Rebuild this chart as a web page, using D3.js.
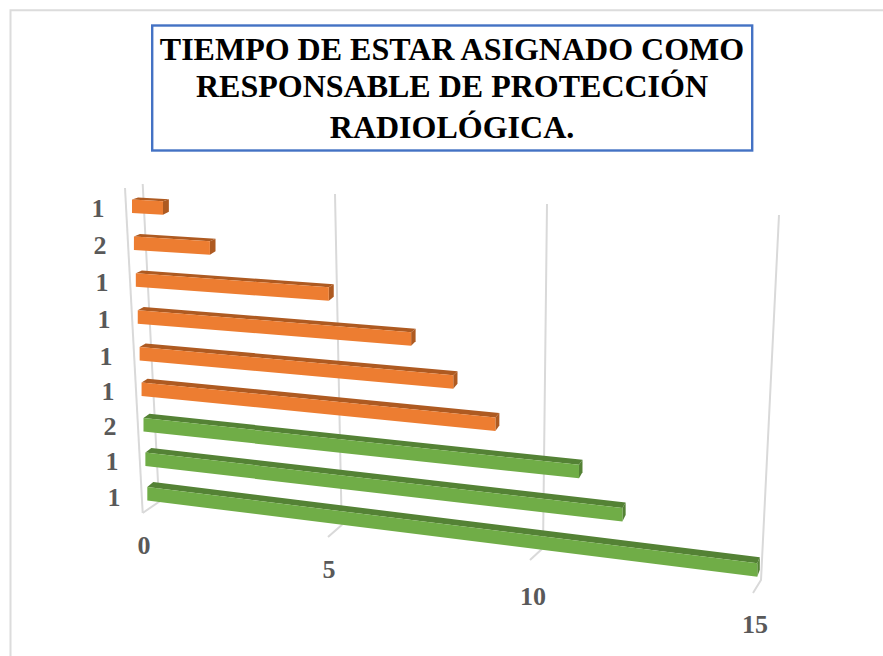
<!DOCTYPE html>
<html>
<head>
<meta charset="utf-8">
<style>html,body{margin:0;padding:0;background:#fff;overflow:hidden}svg{display:block}</style>
<script src="https://cdn.jsdelivr.net/npm/d3@7"></script>
</head>
<body>
<script>
const titleLines = ["TIEMPO DE ESTAR ASIGNADO COMO", "RESPONSABLE DE PROTECCIÓN", "RADIOLÓGICA."];
const categories = ["1", "2", "1", "1", "1", "1", "2", "1", "1"];
const values = [1, 2, 5, 7, 8, 9, 11, 12, 15];
const seriesGroup = ["a", "a", "a", "a", "a", "a", "b", "b", "b"];
const ticks = [0, 5, 10, 15];

const W = 883, H = 656;
const svg = d3.select("body").append("svg").attr("width", W).attr("height", H);
const idx = d3.range(categories.length);

// projected (perspective) scales
const rowLeft = d3.scaleLinear().domain([0, 8]).range([132, 147.3]);
const rowTop = d3.scaleLinear().domain([0, 4, 6, 8]).range([199.5, 347, 418, 487]);
const rowSlope = d3.scaleLinear().domain([0, 8]).range([0.055, 0.125]);
const along = d3.scaleLinear().domain([0, 1, 2, 5, 10, 12, 15]).range([0, 31, 76, 193, 394, 477, 610]);
const depthX = d3.scaleLinear().domain([140, 757]).range([6, 2.5]);
const depthY = d3.scaleLinear().domain([0, 8]).range([2, 5]);
const thickness = 13.5;

const fill = d3.scaleOrdinal().domain(["a", "b"]).range(["#ed7d31", "#70ad47"]);
const dark = d3.scaleOrdinal().domain(["a", "b"]).range(["#ae5a21", "#548235"]);

// frame
svg.append("path").attr("d", d3.line()([[10.5, H], [10.5, 10.2], [W, 10.2]]))
  .attr("fill", "none").attr("stroke", "#dcdcdc").attr("stroke-width", 2);

// grid
const gridTopX = d3.scaleLinear().domain(ticks).range([142.7, 335, 547, 779]);
const gridTopY = d3.scaleLinear().domain(ticks).range([184, 194, 204, 215]);
const gridBotX = d3.scaleLinear().domain(ticks).range([159, 341.7, 543, 761]);
const gridBotY = d3.scaleLinear().domain(ticks).range([501.7, 525, 548, 580]);
const floorX = d3.scaleLinear().domain(ticks).range([142.7, 328, 530, 753]);
const floorY = d3.scaleLinear().domain(ticks).range([513, 537, 560, 593]);

const line = d3.line();
const gridG = svg.append("g").attr("fill", "none").attr("stroke", "#d9d9d9").attr("stroke-width", 2);
gridG.selectAll("path.g").data(ticks).join("path").attr("class", "g")
  .attr("d", t => line([[gridTopX(t), gridTopY(t)], [gridBotX(t), gridBotY(t)], [floorX(t), floorY(t)]]));
gridG.append("path").attr("d", line([[125, 188], [floorX(0), floorY(0)]]));

// bars
const bars = svg.append("g").selectAll("g").data(idx).join("g");
function geom(i) {
  const u = along(values[i]);
  const xl = rowLeft(i), yl = rowTop(i), s = rowSlope(i);
  const xr = xl + u, yr = yl + s * u;
  return {xl, yl, xr, yr,
    dxl: depthX(xl), dxr: depthX(xr), dy: depthY(i),
    dyr: depthY(i) + 1 * u / along(15)};
}
bars.append("path").attr("fill", i => dark(seriesGroup[i])).attr("d", i => {
  const g = geom(i);
  return line([[g.xl, g.yl], [g.xl + g.dxl, g.yl - g.dy], [g.xr + g.dxr, g.yr - g.dyr], [g.xr, g.yr]]) + "Z";
});
bars.append("path").attr("fill", i => dark(seriesGroup[i])).attr("d", i => {
  const g = geom(i);
  return line([[g.xr, g.yr], [g.xr + g.dxr, g.yr - g.dyr], [g.xr + g.dxr, g.yr - g.dyr + thickness - 1], [g.xr, g.yr + thickness]]) + "Z";
});
bars.append("path").attr("fill", i => fill(seriesGroup[i])).attr("d", i => {
  const g = geom(i);
  return line([[g.xl, g.yl], [g.xr, g.yr], [g.xr, g.yr + thickness], [g.xl, g.yl + thickness]]) + "Z";
});

// labels
const font = "'Liberation Serif', serif";
const catX = d3.scaleLinear().domain([0, 8]).range([98, 114]);
const catY = d3.scaleLinear().domain([0, 4, 8]).range([216.5, 364.5, 505.5]);
svg.append("g").selectAll("text").data(idx).join("text")
  .attr("x", i => catX(i)).attr("y", i => catY(i)).attr("text-anchor", "middle")
  .attr("font-family", font).attr("font-weight", "bold").attr("font-size", 26).attr("fill", "#595959")
  .text(i => categories[i]);

const labelX = d3.scaleLinear().domain(ticks).range([144, 329, 533, 755]);
const labelY = d3.scaleLinear().domain(ticks).range([553.5, 577.5, 604.5, 632.5]);
svg.append("g").selectAll("text").data(ticks).join("text")
  .attr("x", labelX).attr("y", labelY).attr("text-anchor", "middle")
  .attr("font-family", font).attr("font-weight", "bold").attr("font-size", 26).attr("fill", "#595959")
  .text(d => d);

// title
svg.append("rect").attr("x", 152.2).attr("y", 25.5).attr("width", 600).attr("height", 125)
  .attr("fill", "#fff").attr("stroke", "#4472c4").attr("stroke-width", 2.4);
const titleY = [60, 97, 138];
svg.append("g").selectAll("text").data(titleLines).join("text")
  .attr("x", 452).attr("y", (d, i) => titleY[i]).attr("text-anchor", "middle")
  .attr("font-family", font).attr("font-weight", "bold").attr("font-size", 32).attr("fill", "#000")
  .text(d => d);
</script>
</body>
</html>
